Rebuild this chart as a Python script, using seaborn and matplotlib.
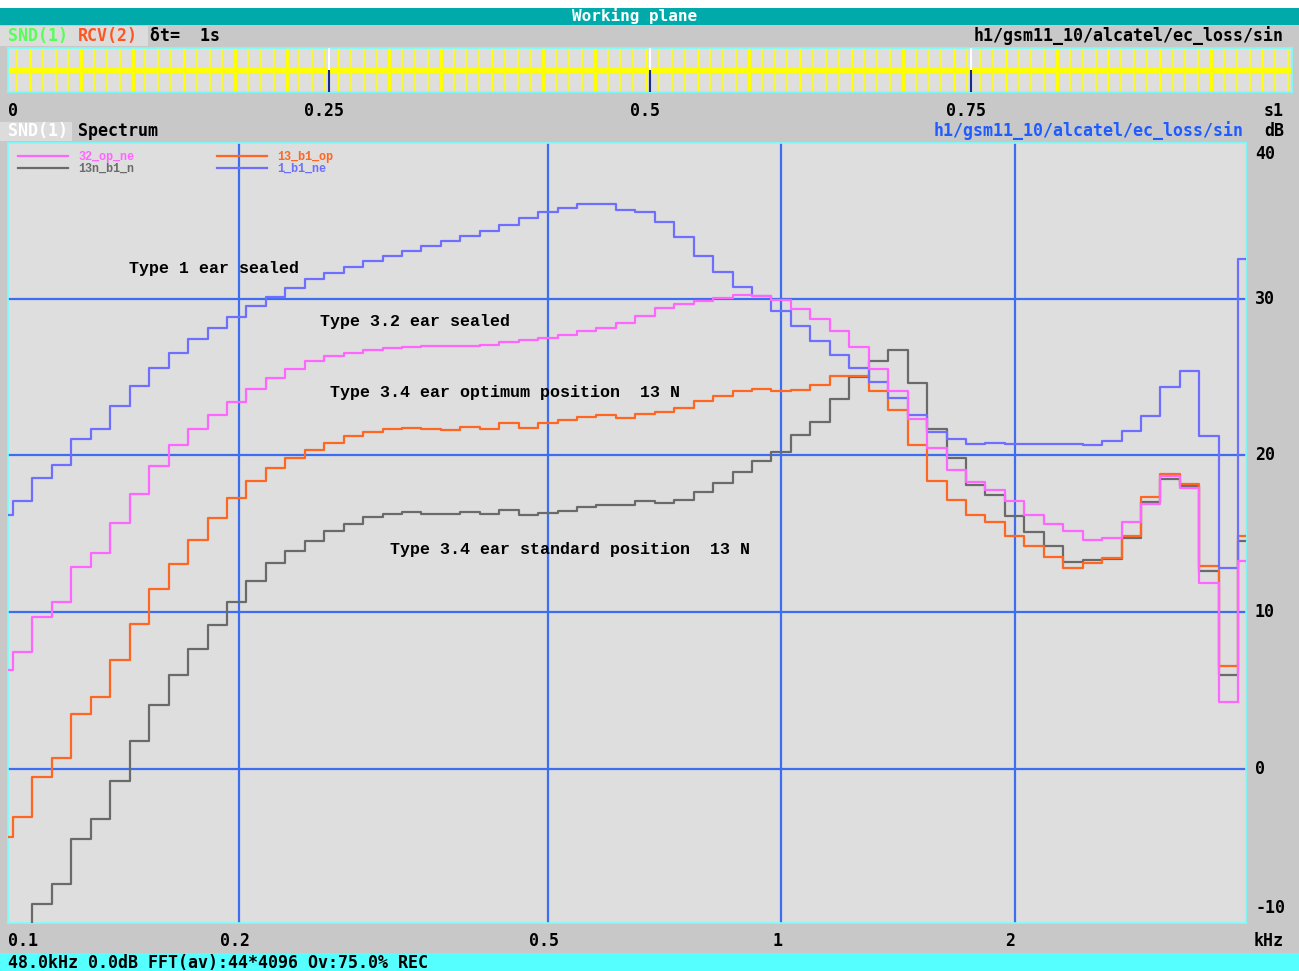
import numpy as np
import pandas as pd
import matplotlib
matplotlib.use("Agg")
import matplotlib.pyplot as plt
import matplotlib.transforms as mtransforms
from matplotlib.lines import Line2D
from matplotlib.font_manager import FontProperties
import seaborn as sns

W, H, DPI = 1299, 971, 100

# ---------------- data ----------------
# 1/12-octave bands, centre frequency = 2**(n/12) kHz
band_index = list(range(-40, 25))

s_32_op_ne = [6.3, 7.43, 9.68, 10.64, 12.86, 13.8, 15.66, 17.56, 19.3, 20.64,
              21.67, 22.57, 23.41, 24.25, 24.95, 25.52, 25.99, 26.31, 26.54, 26.71,
              26.82, 26.92, 26.96, 26.99, 27.0, 27.07, 27.22, 27.35, 27.49, 27.69,
              27.9, 28.15, 28.41, 28.87, 29.38, 29.66, 29.87, 30.04, 30.21, 30.15,
              29.92, 29.34, 28.7, 27.9, 26.94, 25.52, 24.08, 22.34, 20.47, 19.04,
              18.32, 17.81, 17.1, 16.22, 15.64, 15.17, 14.59, 14.76, 15.73, 16.89,
              18.67, 17.94, 11.87, 4.27, 13.24]
s_13n_b1_n = [-14.0, -12.0, -8.6, -7.36, -4.47, -3.2, -0.77, 1.8, 4.05, 5.98,
              7.65, 9.16, 10.64, 12.0, 13.12, 13.91, 14.56, 15.2, 15.63, 16.1,
              16.28, 16.39, 16.28, 16.28, 16.39, 16.28, 16.54, 16.18, 16.33, 16.48,
              16.71, 16.86, 16.82, 17.09, 16.96, 17.18, 17.66, 18.22, 18.94, 19.66,
              20.23, 21.3, 22.14, 23.61, 24.97, 25.99, 26.71, 24.63, 21.68, 19.81,
              18.1, 17.45, 16.16, 15.09, 14.21, 13.22, 13.3, 13.4, 14.7, 17.02,
              18.5, 18.05, 12.65, 5.98, 14.52]
s_13_b1_op = [-4.34, -3.09, -0.5, 0.7, 3.5, 4.6, 6.98, 9.26, 11.45, 13.1,
              14.63, 16.01, 17.27, 18.39, 19.19, 19.83, 20.34, 20.81, 21.21, 21.51,
              21.68, 21.76, 21.68, 21.61, 21.83, 21.7, 22.08, 21.76, 22.08, 22.27,
              22.46, 22.55, 22.38, 22.61, 22.76, 23.04, 23.44, 23.76, 24.08, 24.25,
              24.08, 24.16, 24.46, 25.03, 25.03, 24.08, 22.89, 20.64, 18.39, 17.18,
              16.22, 15.75, 14.87, 14.21, 13.54, 12.83, 13.15, 13.45, 14.85, 17.36,
              18.82, 18.15, 12.92, 6.54, 14.85]
s_1_b1_ne = [16.2, 17.1, 18.55, 19.4, 21.06, 21.67, 23.12, 24.4, 25.6, 26.56,
             27.4, 28.1, 28.84, 29.53, 30.13, 30.7, 31.23, 31.6, 32.0, 32.42,
             32.72, 33.06, 33.38, 33.69, 34.01, 34.33, 34.71, 35.12, 35.52, 35.75,
             36.01, 36.01, 35.67, 35.5, 34.88, 33.95, 32.74, 31.7, 30.72, 30.15,
             29.21, 28.24, 27.28, 26.41, 25.58, 24.65, 23.67, 22.55, 21.51, 21.04,
             20.72, 20.8, 20.75, 20.75, 20.75, 20.75, 20.67, 20.9, 21.57, 22.51,
             24.38, 25.36, 21.22, 12.81, 32.5]

series_names = ["32_op_ne", "13n_b1_n", "13_b1_op", "1_b1_ne"]
series_values = [s_32_op_ne, s_13n_b1_n, s_13_b1_op, s_1_b1_ne]
series_colors = ["#FF66FF", "#6A6A6A", "#FF6622", "#6E6EFF"]
draw_order = ["13n_b1_n", "13_b1_op", "1_b1_ne", "32_op_ne"]

x_grid = [0.2, 0.5, 1, 2]
x_tick_labels = ["0.1", "0.2", "0.5", "1", "2"]
x_tick_values = [0.1, 0.2, 0.5, 1, 2]
y_grid = [0, 10, 20, 30]
y_tick_values = [40, 30, 20, 10, 0, -10]

annotations = [
    ("Type 1 ear sealed", 0.144, 31.9),
    ("Type 3.2 ear sealed", 0.254, 28.55),
    ("Type 3.4 ear optimum position  13 N", 0.262, 24.03),
    ("Type 3.4 ear standard position  13 N", 0.313, 13.97),
]

time_ticks = [0.25, 0.5, 0.75]
time_tick_labels = ["0.25", "0.5", "0.75"]
pulse_times = [round(0.007 + 0.01 * k, 4) for k in range(100)]

# ---------------- styling ----------------
BG = "#C8C8C8"
PLOT_BG = "#DEDEDE"
CYAN = "#77FFFF"
GRID = "#3D6EF2"
MONO = ["DejaVu Sans Mono"]
SERIF_MONO = ["Liberation Mono", "DejaVu Sans Mono"]

def fx(x):
    return x / W

def fy(y):
    return 1 - y / H

def prect(x0, y0, x1, y1):
    return [x0 / W, 1 - y1 / H, (x1 - x0) / W, (y1 - y0) / H]

fig = plt.figure(figsize=(W / DPI, H / DPI), dpi=DPI, facecolor=BG)

# white top strip + title bar
fig.patches.append(plt.Rectangle((0, fy(8)), 1, 8 / H, transform=fig.transFigure,
                                 facecolor="white", edgecolor="none", zorder=0))
fig.patches.append(plt.Rectangle((0, fy(25)), 1, 17 / H, transform=fig.transFigure,
                                 facecolor="#00AAAA", edgecolor="none", zorder=0))
fig.text(fx(635), fy(16.5), "Working plane", color="white", ha="center", va="center",
         family=MONO, weight="bold", fontsize=11.5)

# status bar
fig.patches.append(plt.Rectangle((0, 0), 1, 18 / H, transform=fig.transFigure,
                                 facecolor="#55FFFF", edgecolor="none", zorder=0))
fig.text(fx(8), fy(963), "48.0kHz 0.0dB FFT(av):44*4096 Ov:75.0% REC", color="black",
         ha="left", va="center", family=MONO, weight="bold", fontsize=12)

# row 1 labels
fig.patches.append(plt.Rectangle((0, fy(46)), 148 / W, 20 / H, transform=fig.transFigure,
                                 facecolor="#DCDCDC", edgecolor="none", zorder=0))
fig.text(fx(8), fy(36), "SND(1)", color="#55FF55", ha="left", va="center",
         family=MONO, weight="bold", fontsize=12)
fig.text(fx(78), fy(36), "RCV(2)", color="#FF5522", ha="left", va="center",
         family=MONO, weight="bold", fontsize=12)
fig.text(fx(150), fy(36), "δt=  1s", color="black", ha="left", va="center",
         family=MONO, weight="bold", fontsize=12)
fig.text(fx(1284), fy(36), "h1/gsm11_10/alcatel/ec_loss/sin", color="black", ha="right",
         va="center", family=MONO, weight="bold", fontsize=12)

# ---------------- waveform strip ----------------
axw = fig.add_axes(prect(8, 48, 1292, 92))
axw.set_facecolor(PLOT_BG)
for sp in axw.spines.values():
    sp.set_color(CYAN)
    sp.set_linewidth(1.2)
axw.set_xlim(0, 1)
axw.set_ylim(-1, 1)
axw.set_xticks([])
axw.set_yticks([])
axw.axhline(0, color="#FFFF00", lw=3.5, zorder=2)
for k, t in enumerate(pulse_times):
    axw.vlines(t, -1, 1, color="#FFFF00", lw=2.2 if k % 4 == 1 else 1.1, zorder=2)
for t in time_ticks:
    axw.vlines(t, 0, 1, color="white", lw=1.5, zorder=3)
    axw.vlines(t, -1, 0, color="#1A2A8A", lw=1.5, zorder=3)

tr_w = mtransforms.blended_transform_factory(axw.transData, fig.transFigure)
fig.text(fx(8), fy(111), "0", ha="left", va="center", family=MONO, weight="bold", fontsize=12)
for t, lab in zip(time_ticks, time_tick_labels):
    axw.text(t, fy(111), lab, transform=tr_w + mtransforms.ScaledTranslation(-5 / DPI, 0, fig.dpi_scale_trans),
             ha="center", va="center", family=MONO, weight="bold", fontsize=12)
fig.text(fx(1284), fy(111), "s1", ha="right", va="center", family=MONO, weight="bold", fontsize=12)

# row 2 labels
fig.patches.append(plt.Rectangle((0, fy(141)), 72 / W, 19 / H, transform=fig.transFigure,
                                 facecolor="#DCDCDC", edgecolor="none", zorder=0))
fig.text(fx(8), fy(131), "SND(1)", color="white", ha="left", va="center",
         family=MONO, weight="bold", fontsize=12)
fig.text(fx(78), fy(131), "Spectrum", color="black", ha="left", va="center",
         family=MONO, weight="bold", fontsize=12)
fig.text(fx(1244), fy(131), "h1/gsm11_10/alcatel/ec_loss/sin", color="#1E5CFF", ha="right",
         va="center", family=MONO, weight="bold", fontsize=12)
fig.text(fx(1284), fy(131), "dB", color="black", ha="right", va="center",
         family=MONO, weight="bold", fontsize=12)

# ---------------- spectrum ----------------
ax = fig.add_axes(prect(8, 143, 1246, 923))
ax.set_facecolor(PLOT_BG)
for sp in ax.spines.values():
    sp.set_color(CYAN)
    sp.set_linewidth(1.2)

n = np.array(band_index, dtype=float)
edges = np.append(2 ** ((n - 0.5) / 12), 2 ** ((n[-1] + 0.5) / 12))
frames = []
for name, vals in zip(series_names, series_values):
    frames.append(pd.DataFrame({"series": name, "freq": edges,
                                "level": list(vals) + [vals[-1]]}))
df = pd.concat(frames, ignore_index=True)

palette = dict(zip(series_names, series_colors))
for name in draw_order:
    sns.lineplot(data=df[df["series"] == name], x="freq", y="level", color=palette[name],
                 drawstyle="steps-post", lw=1.6, estimator=None, sort=True,
                 legend=False, ax=ax, zorder=4)

ax.set_xscale("log")
ax.set_xlim(0.1006, 3.977)
ax.set_ylim(-9.82, 39.92)
ax.xaxis.set_minor_locator(matplotlib.ticker.NullLocator())
ax.set_xticks(x_grid)
ax.set_yticks(y_grid)
ax.tick_params(length=0, labelbottom=False, labelleft=False)
ax.set_xlabel("")
ax.set_ylabel("")
ax.grid(True, color=GRID, lw=1.6, zorder=1)
ax.set_axisbelow(True)

# x tick labels
tr_x = mtransforms.blended_transform_factory(ax.transData, fig.transFigure)
off = mtransforms.ScaledTranslation(-4 / DPI, 0, fig.dpi_scale_trans)
for v, lab in zip(x_tick_values, x_tick_labels):
    if v == x_tick_values[0]:
        fig.text(fx(8), fy(941), lab, ha="left", va="center", family=MONO, weight="bold", fontsize=12)
    else:
        ax.text(v, fy(941), lab, transform=tr_x + off, ha="center", va="center",
                family=MONO, weight="bold", fontsize=12)
fig.text(fx(1284), fy(941), "kHz", ha="right", va="center", family=MONO, weight="bold", fontsize=12)

# y tick labels (right side)
tr_y = mtransforms.blended_transform_factory(fig.transFigure, ax.transData)
tr_ya = mtransforms.blended_transform_factory(fig.transFigure, ax.transAxes)
for v in y_tick_values:
    if v == 40:
        ax.text(fx(1255), 1.0, str(v),
                transform=tr_ya + mtransforms.ScaledTranslation(0, -2 / DPI, fig.dpi_scale_trans),
                ha="left", va="top", family=MONO, weight="bold", fontsize=12)
    elif v == -10:
        ax.text(fx(1255), 0.0, str(v),
                transform=tr_ya + mtransforms.ScaledTranslation(0, 6 / DPI, fig.dpi_scale_trans),
                ha="left", va="bottom", family=MONO, weight="bold", fontsize=12)
    else:
        ax.text(fx(1255), v, str(v), transform=tr_y, ha="left", va="center",
                family=MONO, weight="bold", fontsize=12)

# annotations
for txt, xv, yv in annotations:
    ax.text(xv, yv, txt, ha="left", va="center", family=SERIF_MONO, weight="bold",
            fontsize=12, color="black", zorder=6)

# legend
handles = [Line2D([], [], color=c, lw=1.6) for c in series_colors]
leg = ax.legend(handles, series_names, ncol=2, loc="upper left",
                bbox_to_anchor=(0.0081, 0.990), frameon=False,
                prop=FontProperties(family=SERIF_MONO, weight="bold", size=8.5),
                handlelength=4.25, handletextpad=0.85, columnspacing=7.0,
                labelspacing=0.0, borderpad=0, borderaxespad=0)
for t, c in zip(leg.get_texts(), series_colors):
    t.set_color(c)

fig.savefig("out.png", dpi=DPI, facecolor=BG)
